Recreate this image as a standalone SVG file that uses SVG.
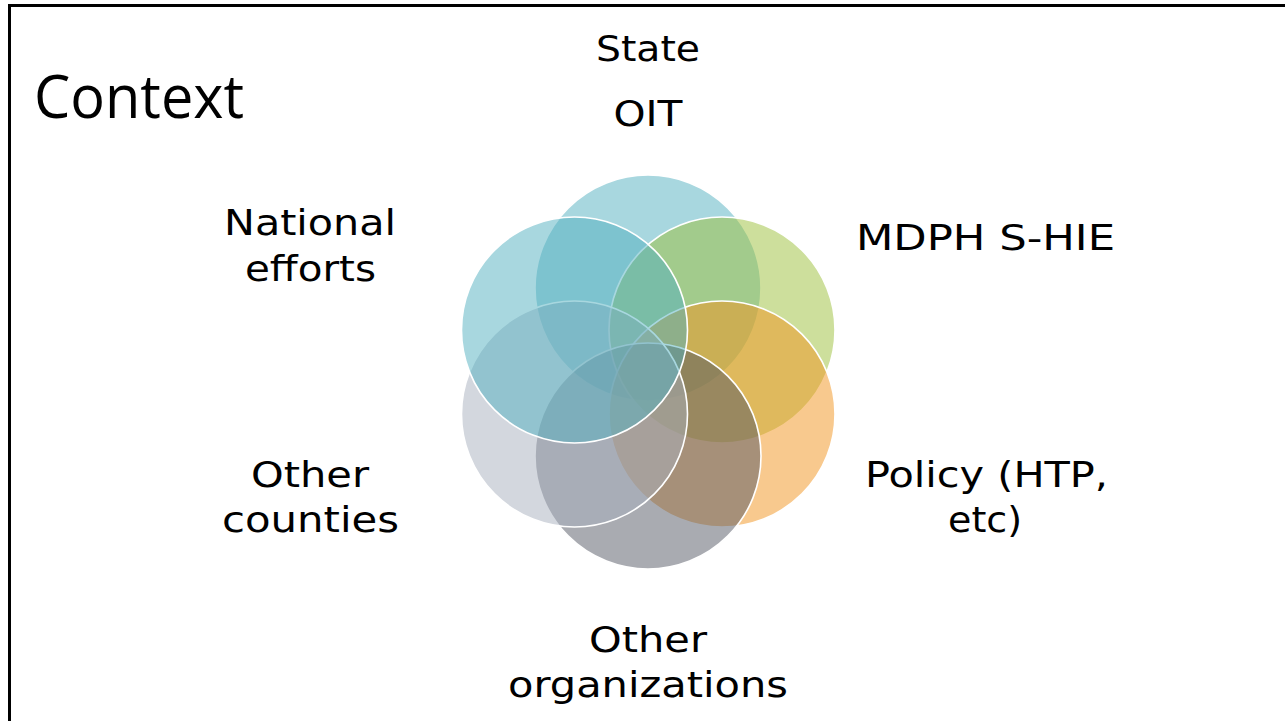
<svg xmlns="http://www.w3.org/2000/svg" width="1285" height="721" viewBox="0 0 1285 721">
<style>
.lbl{font-family:"DejaVu Sans","Open Sans",sans-serif;font-size:36px;fill:#000;text-anchor:middle}
.c{fill-opacity:0.5;stroke:#fff;stroke-width:1.6}
</style>
<rect x="0" y="0" width="1285" height="721" fill="#fff"/>
<rect x="9.5" y="5.5" width="1300" height="800" fill="none" stroke="#000" stroke-width="3"/>
<text x="34" y="118" font-family="Open Sans, Liberation Sans, sans-serif" font-size="60" textLength="210" lengthAdjust="spacingAndGlyphs">Context</text>
<g id="circles">
<circle id="c-state" class="c" cx="648" cy="288" r="113" fill="#51afbf"/>
<circle id="c-mdph" class="c" cx="722" cy="330" r="113" fill="#9bbf39"/>
<circle id="c-policy" class="c" cx="722" cy="414" r="113" fill="#f1931d"/>
<circle id="c-orgs" class="c" cx="648" cy="456" r="113" fill="#535763"/>
<circle id="c-counties" class="c" cx="574.5" cy="414" r="113" fill="#a7afbd"/>
<circle id="c-national" class="c" cx="574.5" cy="330" r="113" fill="#51afbf"/>
</g>
<g id="label-state">
<text class="lbl" x="648" y="61" textLength="104" lengthAdjust="spacingAndGlyphs">State</text>
<text class="lbl" x="648" y="126" textLength="69" lengthAdjust="spacingAndGlyphs">OIT</text>
</g>
<g id="label-mdph">
<text class="lbl" x="985.5" y="250" textLength="259" lengthAdjust="spacingAndGlyphs">MDPH S-HIE</text>
</g>
<g id="label-policy">
<text class="lbl" x="986.5" y="487" textLength="243" lengthAdjust="spacingAndGlyphs">Policy (HTP,</text>
<text class="lbl" x="985" y="532" textLength="74" lengthAdjust="spacingAndGlyphs">etc)</text>
</g>
<g id="label-orgs">
<text class="lbl" x="648" y="652" textLength="118" lengthAdjust="spacingAndGlyphs">Other</text>
<text class="lbl" x="648" y="697" textLength="280" lengthAdjust="spacingAndGlyphs">organizations</text>
</g>
<g id="label-counties">
<text class="lbl" x="310" y="487" textLength="118" lengthAdjust="spacingAndGlyphs">Other</text>
<text class="lbl" x="310.5" y="532" textLength="177" lengthAdjust="spacingAndGlyphs">counties</text>
</g>
<g id="label-national">
<text class="lbl" x="310" y="235" textLength="172" lengthAdjust="spacingAndGlyphs">National</text>
<text class="lbl" x="310.5" y="281" textLength="131" lengthAdjust="spacingAndGlyphs">efforts</text>
</g>
<g id="connectors"/>
</svg>
